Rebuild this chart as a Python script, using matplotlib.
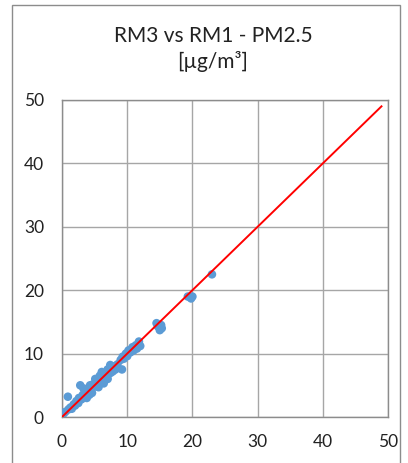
import matplotlib
matplotlib.use("Agg")
import matplotlib.pyplot as plt
from matplotlib.patches import Rectangle

plt.rcParams['font.family'] = ['Lato', 'DejaVu Sans']

title = "RM3 vs RM1 - PM2.5\n[µg/m³]"
ticks = [0, 10, 20, 30, 40, 50]

x_rm1 = [0.2, 0.5, 0.9, 1.0, 1.3, 1.5, 1.8, 2.0, 2.2, 2.5, 2.6, 2.8, 3.0, 3.2, 3.3,
         3.5, 3.7, 3.8, 4.0, 4.2, 4.3, 4.5, 4.6, 4.8, 5.0, 5.1, 5.3, 5.5, 5.6, 5.8,
         6.0, 6.1, 6.2, 6.4, 6.5, 6.8, 7.0, 7.0, 7.2, 7.4, 7.5, 7.8, 8.0, 8.2, 8.5,
         9.0, 9.2, 9.3, 9.5, 9.8, 10.0, 10.2, 10.5, 10.8, 11.0, 11.3, 11.5, 11.8, 12.0,
         14.5, 14.7, 15.0, 15.2, 15.3, 19.3, 19.8, 20.0, 23.0]
y_rm3 = [0.5, 0.8, 3.2, 1.2, 1.5, 1.3, 2.0, 1.8, 2.5, 2.2, 3.0, 5.0, 2.8, 3.5, 4.5,
         3.2, 4.0, 3.0, 4.2, 3.5, 5.0, 4.5, 3.8, 5.2, 4.8, 6.0, 5.0, 5.5, 4.7, 6.5,
         5.8, 7.1, 6.0, 5.3, 6.8, 6.2, 7.5, 6.0, 6.8, 8.2, 7.0, 7.2, 8.0, 7.5, 8.3,
         9.0, 7.5, 9.5, 9.2, 10.0, 9.6, 10.5, 10.2, 11.0, 10.5, 11.3, 10.8, 11.9, 11.2,
         14.8, 14.3, 13.7, 14.5, 14.0, 19.0, 18.7, 19.0, 22.5]
line_x = [0, 49]
line_y = [0, 49]

fig = plt.figure(figsize=(4.08, 4.63), dpi=100)
fig.patches.append(Rectangle((12/408, -0.1), (400-12)/408, (463-5)/463 + 0.1,
                             transform=fig.transFigure, fill=False,
                             edgecolor='#8c8c8c', linewidth=1.0, zorder=0))
ax = fig.add_axes([62/408, 46/463, 326/408, 317/463])

ax.scatter(x_rm1, y_rm3, s=38, color='#5B9BD5', edgecolors='none', zorder=3)
ax.plot(line_x, line_y, color='#FF0000', linewidth=1.4, zorder=4)

ax.set_xlim(0, 50)
ax.set_ylim(0, 50)
ax.set_xticks(ticks)
ax.set_yticks(ticks)
ax.grid(True, color='#a6a6a6', linewidth=1.0)
ax.set_axisbelow(True)
for s in ax.spines.values():
    s.set_color('#8c8c8c')
    s.set_linewidth(1.0)
ax.tick_params(axis='both', length=0, labelsize=12.5, labelcolor='#222222')
ax.tick_params(axis='y', pad=13)
ax.tick_params(axis='x', pad=12)

fig.text(213/408, 1 - 49/463, title, ha='center', va='center', fontsize=15,
         color='#222222', linespacing=1.25)

fig.savefig("out.png", dpi=100)
